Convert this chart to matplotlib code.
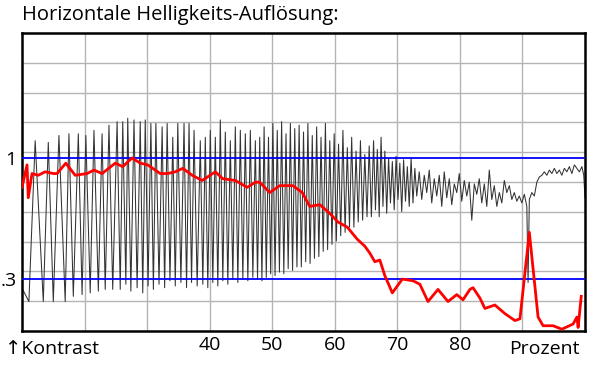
import numpy as np
import matplotlib
matplotlib.use("Agg")
import matplotlib.pyplot as plt

plt.rcParams["font.family"] = ["Open Sans", "DejaVu Sans"]

title = "Horizontale Helligkeits-Auflösung:"
x_ticks = [40, 50, 60, 70, 80]
y_ticks = [0.3, 1.0]
y_tick_labels = [".3", "1"]
ref_levels = [1.0, 0.3]

# black test signal: turning points (percent, contrast)
sig_x = [10.1, 11.1, 12.1, 13.4, 14.2, 15.0, 15.9, 16.9, 17.5, 18.2, 19.0, 19.6,
         20.2, 20.9, 21.5, 22.2, 22.8, 23.3, 23.9, 24.5, 25.2, 25.7, 26.1, 26.6,
         26.9, 27.4, 27.9, 28.4,
         28.9, 29.3, 29.7, 30.15, 30.6, 31.0, 31.4, 31.9, 32.4, 32.8, 33.2, 33.65,
         34.1, 34.5, 34.9, 35.4, 35.9, 36.3, 36.7, 37.1, 37.5, 38.0, 38.5, 38.9,
         39.3, 39.7, 40.1, 40.5, 40.9, 41.3, 41.7, 42.1, 42.5, 42.9, 43.3, 43.7,
         44.1, 44.5, 44.9, 45.3, 45.7, 46.1, 46.5, 46.9, 47.3, 47.65,
         48.0, 48.35, 48.7, 49.05, 49.4, 49.75, 50.1, 50.45, 50.8, 51.15, 51.5, 51.85,
         52.2, 52.55, 52.9, 53.25, 53.6, 53.95, 54.3, 54.65, 55.0, 55.35, 55.7, 56.05,
         56.4, 56.75, 57.1, 57.45, 57.8, 58.15, 58.5, 58.85, 59.2, 59.55, 59.9, 60.25,
         60.6, 60.95, 61.3, 61.65, 62.0, 62.35, 62.7, 63.05, 63.4, 63.75, 64.1, 64.45,
         64.8, 65.15, 65.5, 65.85,
         66.2, 66.5, 66.8, 67.1, 67.4, 67.7, 68.0, 68.3, 68.6, 68.9, 69.2, 69.5,
         69.8, 70.1, 70.4, 70.7, 71.0, 71.3, 71.6, 71.9, 72.2, 72.5, 72.8, 73.1,
         73.5, 73.9, 74.3, 74.7, 75.1, 75.5, 75.9, 76.3, 76.7, 77.1, 77.5, 77.9,
         78.3, 78.7, 79.1, 79.5, 79.9, 80.3, 80.7, 81.1, 81.5, 81.9, 82.3, 82.7,
         83.1, 83.5, 83.9, 84.3, 84.7, 85.1, 85.5, 85.9, 86.3, 86.7, 87.1, 87.5,
         87.9, 88.3, 88.7, 89.1, 89.5, 89.9, 90.3, 90.7, 90.9, 91.1, 91.5, 91.9,
         92.3, 92.7, 93.1, 93.5, 93.9, 94.3, 94.7, 95.1, 95.5, 95.9, 96.3, 96.7,
         97.1, 97.5, 97.9, 98.3, 98.7, 99.1, 99.5, 99.8, 100.0]
sig_y = [0.24, 0.17, 1.10, 0.17, 1.09, 0.17, 1.13, 0.17, 1.14, 0.20, 1.14, 0.21,
         1.13, 0.22, 1.16, 0.23, 1.14, 0.24, 1.19, 0.24, 1.21, 0.24, 1.21, 0.27,
         1.23, 0.23, 1.22, 0.25,
         1.21, 0.22, 1.22, 0.26, 1.20, 0.24, 1.20, 0.27, 1.18, 0.25, 1.20, 0.29,
         1.12, 0.26, 1.20, 0.28, 1.20, 0.25, 1.20, 0.28, 1.16, 0.26, 1.10, 0.27,
         1.12, 0.25, 1.16, 0.28, 1.12, 0.26, 1.22, 0.29, 1.15, 0.27, 1.10, 0.30,
         1.18, 0.28, 1.16, 0.30, 1.14, 0.29, 1.16, 0.31, 1.10, 0.30,
         1.12, 0.29, 1.18, 0.31, 1.12, 0.33, 1.20, 0.32, 1.16, 0.34, 1.21, 0.33,
         1.14, 0.36, 1.20, 0.35, 1.17, 0.37, 1.19, 0.37, 1.15, 0.40, 1.20, 0.39,
         1.13, 0.42, 1.18, 0.43, 1.12, 0.46, 1.20, 0.47, 1.10, 0.50, 1.14, 0.52,
         1.08, 0.55, 1.16, 0.57, 1.06, 0.60, 1.12, 0.60, 1.04, 0.63, 1.10, 0.64,
         1.02, 0.66, 1.07, 0.66,
         1.10, 0.70, 1.05, 0.66, 1.12, 0.72, 1.04, 0.68, 1.00, 0.74, 0.98, 0.70,
         1.01, 0.76, 0.97, 0.69, 0.99, 0.75, 0.95, 0.72, 1.00, 0.74, 0.94, 0.78,
         0.92, 0.76, 0.90, 0.80, 0.93, 0.74, 0.88, 0.78, 0.90, 0.72, 0.92, 0.77,
         0.88, 0.73, 0.85, 0.80, 0.91, 0.75, 0.87, 0.78, 0.86, 0.64, 0.85, 0.79,
         0.88, 0.74, 0.85, 0.72, 0.93, 0.76, 0.84, 0.72, 0.80, 0.74, 0.87, 0.80,
         0.84, 0.76, 0.80, 0.75, 0.78, 0.74, 0.79, 0.72, 0.28, 0.76, 0.80, 0.78,
         0.86, 0.89, 0.90, 0.92, 0.90, 0.93, 0.91, 0.94, 0.91, 0.93, 0.90, 0.94,
         0.92, 0.95, 0.91, 0.96, 0.94, 0.92, 0.95, 0.90, 0.77]

# red measured contrast curve
red_x = [10.0, 10.8, 11.0, 11.6, 12.6, 13.7, 15.0, 15.6, 17.0, 18.5, 20.4, 21.5,
         22.8, 24.9, 26.1, 27.6, 28.9, 30.1, 32.1, 33.3, 34.5, 35.7, 37.2, 38.8,
         40.9, 42.1, 44.1, 46.0, 47.3, 48.0, 49.6, 51.2, 53.3, 54.8, 56.0, 57.6,
         59.2, 60.5, 62.0, 63.6, 64.8, 65.6, 66.4, 67.2, 68.0, 69.2, 70.8, 72.5,
         73.6, 74.9, 76.5, 78.1, 79.5, 80.5, 81.6, 82.1, 83.2, 84.0, 85.6, 87.2,
         88.8, 89.6, 91.1, 92.5, 93.3, 94.9, 96.3, 98.1, 98.7, 98.9, 99.4]
red_y = [0.83, 0.96, 0.77, 0.91, 0.90, 0.92, 0.91, 0.91, 0.97, 0.90, 0.91, 0.93,
         0.91, 0.97, 0.95, 1.00, 0.97, 0.96, 0.91, 0.91, 0.92, 0.94, 0.90, 0.87,
         0.92, 0.88, 0.87, 0.83, 0.86, 0.86, 0.80, 0.84, 0.84, 0.80, 0.72, 0.73,
         0.68, 0.63, 0.60, 0.53, 0.49, 0.45, 0.40, 0.41, 0.32, 0.22, 0.30, 0.29,
         0.27, 0.17, 0.24, 0.17, 0.21, 0.18, 0.24, 0.25, 0.19, 0.13, 0.15, 0.10,
         0.06, 0.07, 0.57, 0.08, 0.03, 0.03, 0.01, 0.04, 0.08, 0.02, 0.20]

fig = plt.figure(figsize=(6, 3.71), dpi=100)
ax = fig.add_axes([0.0367, 0.108, 0.9383, 0.803])
ax.set_xlim(10, 100)
ax.set_ylim(0, 1.7225)

# grid: 9 columns, 10 rows
for gx in np.arange(20, 100, 10):
    ax.axvline(gx, color="#b4b4b4", lw=1.0, zorder=0)
for gy in np.linspace(0, 1.7225, 11)[1:-1]:
    ax.axhline(gy, color="#b4b4b4", lw=1.0, zorder=0)

ax.plot(sig_x, sig_y, color="#333333", lw=0.75, zorder=2)
for lv in ref_levels:
    ax.axhline(lv, color="#0000ff", lw=1.3, zorder=3)
ax.plot(red_x, red_y, color="#ff0000", lw=2.0, zorder=4, solid_joinstyle="round")

ax.set_xticks(x_ticks)
ax.set_xticklabels([str(t) for t in x_ticks], fontsize=14)
ax.set_yticks(y_ticks)
ax.set_yticklabels(y_tick_labels, fontsize=14)
ax.tick_params(which="both", length=0)
ax.tick_params(axis="x", pad=4)
ax.tick_params(axis="y", pad=4)

for s in ax.spines.values():
    s.set_linewidth(1.8)
    s.set_color("black")

fig.text(0.037, 0.933, title, fontsize=14.5, ha="left", va="bottom")
fig.text(0.008, 0.06, "↑Kontrast", fontsize=14, ha="left", va="center")
fig.text(0.908, 0.06, "Prozent", fontsize=14, ha="center", va="center")

fig.savefig("out.png", dpi=100)
